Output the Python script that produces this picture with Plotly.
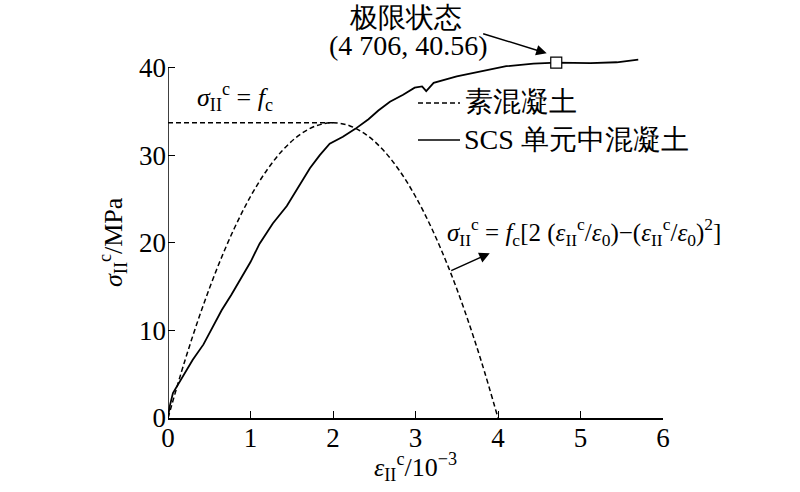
import plotly.graph_objects as go

# ---------------- data ----------------
scs_strain = [0, 0.02, 0.06, 0.12, 0.20, 0.30, 0.43, 0.55, 0.65, 0.77, 0.90, 1.00,
              1.11, 1.27, 1.44, 1.56, 1.72, 1.84, 1.96, 2.12, 2.27, 2.43, 2.55, 2.69,
              2.85, 2.99, 3.08, 3.13, 3.22, 3.50, 3.78, 4.10, 4.43, 4.71, 5.12, 5.44, 5.70]
scs_stress = [0, 1.3, 2.85, 3.8, 4.95, 6.65, 8.4, 10.45, 12.3, 14.1, 16.2, 17.8,
              19.9, 22.2, 24.2, 26.1, 28.5, 30.0, 31.3, 32.1, 33.0, 34.1, 35.1, 36.1,
              36.9, 37.7, 37.85, 37.3, 38.25, 39.0, 39.55, 40.15, 40.45, 40.55, 40.5, 40.6, 40.9]

plain_strain = [0, 0.2, 0.4, 0.6, 0.8, 1.0, 1.2, 1.4, 1.6, 1.8, 2.0,
                2.2, 2.4, 2.6, 2.8, 3.0, 3.2, 3.4, 3.6, 3.8, 4.0]
plain_stress = [0, 6.40, 12.13, 17.19, 21.57, 25.28, 28.31, 30.67, 32.35, 33.36, 33.7,
                33.36, 32.35, 30.67, 28.31, 25.28, 21.57, 17.19, 12.13, 6.40, 0]

fc_strain = [0, 2.0]
fc_stress = [33.7, 33.7]

limit_strain = [4.706]
limit_stress = [40.56]

x_ticks = [0, 1, 2, 3, 4, 5, 6]
y_ticks = [0, 10, 20, 30, 40]

# ---------------- layout helpers ----------------
W, H = 800, 492
PL, PT, PW, PH = 168, 50, 495, 368          # plot area as seen on screen
L, T = PL, PT
R, B = W - L - PW, H - T - PH


def px(x):
    return (x - PL) / PW


def py(y):
    return (PT + PH - y) / PH


FONT = "Liberation Serif, serif"
DASH = "5px,3px"

fig = go.Figure()
fig.add_trace(go.Scatter(x=plain_strain, y=plain_stress, mode="lines",
                         line=dict(color="black", width=1.5, dash=DASH, shape="spline"),
                         showlegend=False))
fig.add_trace(go.Scatter(x=fc_strain, y=fc_stress, mode="lines",
                         line=dict(color="black", width=1.5, dash=DASH),
                         showlegend=False))
fig.add_trace(go.Scatter(x=scs_strain, y=scs_stress, mode="lines",
                         line=dict(color="black", width=1.8),
                         showlegend=False))
fig.add_trace(go.Scatter(x=limit_strain, y=limit_stress, mode="markers",
                         marker=dict(symbol="square", size=11, color="white",
                                     line=dict(color="black", width=1.2)),
                         showlegend=False, cliponaxis=False))

fig.update_layout(
    width=W, height=H,
    margin=dict(l=L, r=R, t=T, b=B, pad=0),
    paper_bgcolor="white", plot_bgcolor="white",
    font=dict(family=FONT, size=27, color="black"),
    xaxis=dict(range=[0, 6], tickvals=x_ticks, ticks="inside", ticklen=7,
               tickwidth=1.3, tickcolor="black", showline=True, linecolor="black",
               linewidth=1.5, showgrid=False, zeroline=False,
               tickfont=dict(size=27, family=FONT), ticklabelstandoff=-5),
    yaxis=dict(range=[0, 42], tickvals=y_ticks, ticks="inside", ticklen=7,
               tickwidth=1.3, tickcolor="black", showline=False,
               showgrid=False, zeroline=False, tickfont=dict(size=27, family=FONT),
               ticklabelstandoff=1),
)

# y axis line ending at 40
fig.add_shape(type="line", xref="x", yref="y", x0=0, x1=0, y0=0, y1=40,
              line=dict(color="black", width=1.5))

# manual legend
fig.add_shape(type="line", xref="paper", yref="paper", x0=px(418), x1=px(460),
              y0=py(103), y1=py(103), line=dict(color="black", width=1.5, dash=DASH))
fig.add_shape(type="line", xref="paper", yref="paper", x0=px(418), x1=px(460),
              y0=py(140), y1=py(140), line=dict(color="black", width=1.5))


def txt(text, x, y, xanchor="left", size=28, angle=0):
    fig.add_annotation(text=text, xref="paper", yref="paper", x=px(x), y=py(y),
                       xanchor=xanchor, yanchor="middle", showarrow=False,
                       font=dict(size=size, family=FONT, color="black"),
                       textangle=angle)


txt("素混凝土", 463, 102)
txt("SCS 单元中混凝土", 462, 139)
txt("极限状态", 405, 17, xanchor="center")
txt("(4 706, 40.56)", 408, 46, xanchor="center")
txt("<i>σ</i><sub>II</sub><sup>c</sup> = <i>f</i><sub>c</sub>", 195, 97, size=26)
txt("<i>σ</i><sub>II</sub><sup>c</sup> = <i>f</i><sub>c</sub>[2 (<i>ε</i><sub>II</sub><sup>c</sup>/<i>ε</i><sub>0</sub>)−(<i>ε</i><sub>II</sub><sup>c</sup>/<i>ε</i><sub>0</sub>)<sup>2</sup>]",
    445, 232, size=25)
txt("<i>ε</i><sub>II</sub><sup>c</sup>/10<sup>−3</sup>", 415, 467, xanchor="center", size=26)
txt("<i>σ</i><sub>II</sub><sup>c</sup>/MPa", 113, 242, xanchor="center", size=26, angle=-90)

# arrows
fig.add_annotation(text="", x=4.59, y=41.63, xref="x", yref="y", showarrow=True,
                   ax=-65, ay=-20, arrowhead=2, arrowsize=1.4, arrowwidth=1.5,
                   arrowcolor="black")
fig.add_annotation(text="", x=3.90, y=18.8, xref="x", yref="y", showarrow=True,
                   ax=-40, ay=18, arrowhead=2, arrowsize=1.4, arrowwidth=1.5,
                   arrowcolor="black")

fig.write_html("out.html", config={"displayModeBar": False},
               post_script="document.body.style.margin='0';")
